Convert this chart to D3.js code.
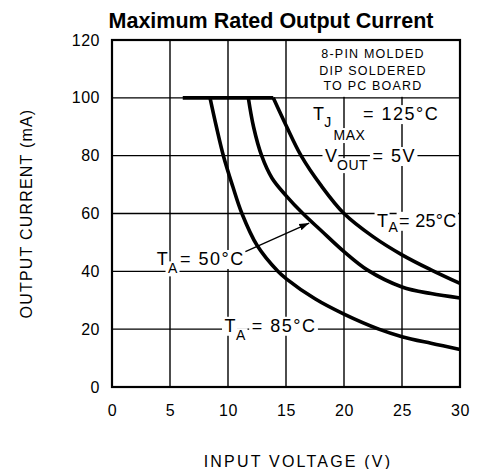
<!DOCTYPE html>
<html>
<head>
<meta charset="utf-8">
<script src="https://cdnjs.cloudflare.com/ajax/libs/d3/7.8.5/d3.min.js"></script>
<style>
body { margin: 0; background: #fff; }
text { font-family: "Liberation Sans", Arial, sans-serif; fill: #000; }
</style>
</head>
<body>
<script>
//tick values
var xTicks = [0, 5, 10, 15, 20, 25, 30];
var yTicks = [0, 20, 40, 60, 80, 100, 120];
//flat current limit at the top
var limitVin = [6.1, 13.9];
var limitIout = [100, 100];
//TA = 25C
var vin25 = [13.9, 15, 16.3, 18, 20, 22.5, 25, 27.5, 30];
var iout25 = [100, 90.5, 80, 69.8, 60, 52, 45.7, 40.5, 35.8];
//TA = 50C
var vin50 = [11.75, 12.2, 12.9, 13.8, 15, 16.5, 18, 20, 22, 25, 27.5, 30];
var iout50 = [100, 90, 80, 72.2, 66.2, 59.8, 54.2, 46.8, 40.5, 34.6, 32.3, 30.8];
//TA = 85C
var vin85 = [8.45, 9.0, 9.6, 10.4, 11.2, 12.5, 14.3, 15, 17.5, 20, 23, 25, 27.5, 30];
var iout85 = [100, 90, 80, 69.5, 60, 49, 40, 37.5, 30.5, 25.2, 20, 17.4, 15.1, 13];

var W = 482, H = 469;
var margin = { left: 112, right: 22, top: 40, bottom: 82 };
var width = W - margin.left - margin.right;
var height = H - margin.top - margin.bottom;

var x = d3.scaleLinear().domain([0, 30]).range([0, width]);
var y = d3.scaleLinear().domain([0, 120]).range([height, 0]);

var svg = d3.select("body").append("svg").attr("width", W).attr("height", H);
var chartGroup = svg.append("g").attr("transform", "translate(" + margin.left + "," + margin.top + ")");

//title
svg.append("text").attr("x", 271).attr("y", 28).attr("text-anchor", "middle")
    .style("font-size", "21.5px").style("font-weight", "bold").text("Maximum Rated Output Current");

//grid lines
chartGroup.selectAll(".vgrid").data(xTicks.slice(1, -1)).enter().append("line")
    .attr("x1", function (d) { return x(d); }).attr("x2", function (d) { return x(d); })
    .attr("y1", 0).attr("y2", height).attr("stroke", "#000").attr("stroke-width", 1.4);
chartGroup.selectAll(".hgrid").data(yTicks.slice(1, -1)).enter().append("line")
    .attr("y1", function (d) { return y(d); }).attr("y2", function (d) { return y(d); })
    .attr("x1", 0).attr("x2", width).attr("stroke", "#000").attr("stroke-width", 1.4);

//axes (labels only)
var xAxis = chartGroup.append("g").attr("transform", "translate(0," + height + ")")
    .call(d3.axisBottom(x).tickValues(xTicks).tickSize(0).tickPadding(18));
var yAxis = chartGroup.append("g")
    .call(d3.axisLeft(y).tickValues(yTicks).tickSize(0).tickPadding(12));
[xAxis, yAxis].forEach(function (a) {
    a.select(".domain").remove();
    a.selectAll("text").style("font-size", "16px").style("letter-spacing", "0.5px")
        .style("font-family", "'Liberation Sans', Arial, sans-serif").attr("fill", "#000");
});

//axis titles
svg.append("text").attr("x", 298).attr("y", 467).attr("text-anchor", "middle")
    .style("font-size", "16px").style("letter-spacing", "2.2px").text("INPUT VOLTAGE (V)");
svg.append("text").attr("transform", "translate(32," + (margin.top + height / 2) + ") rotate(-90)")
    .attr("text-anchor", "middle").style("font-size", "16px").style("letter-spacing", "1.2px")
    .text("OUTPUT CURRENT (mA)");

//white box behind the board note
chartGroup.append("rect").attr("x", x(15) + 1).attr("y", y(120) + 1)
    .attr("width", x(30) - x(15) - 2).attr("height", y(100) - y(120) - 2).attr("fill", "#fff");

//text with a white knock-out box behind it (boxes in their own layer, under all texts)
var boxLayer = chartGroup.append("g");
var textLayer = chartGroup.append("g");
function label(v, i, str, size, ls, anchor) {
    var t = textLayer.append("text").attr("x", x(v)).attr("y", y(i))
        .attr("text-anchor", anchor || "start")
        .style("font-size", size + "px").style("letter-spacing", ls + "px").text(str);
    var b = t.node().getBBox();
    boxLayer.append("rect").attr("x", b.x - 2.5).attr("y", b.y + 1)
        .attr("width", b.width + 4).attr("height", b.height - 1).attr("fill", "#fff");
    return t;
}
//board note
label(22.5, 113.8, "8-PIN MOLDED", 12.5, 1.2, "middle");
label(22.5, 107.9, "DIP SOLDERED", 12.5, 1.2, "middle");
label(22.5, 102.7, "TO PC BOARD", 12.5, 1.2, "middle");
//TJ max and VOUT
label(17.33, 92.3, "T", 18, 0);
label(18.3, 89.9, "J", 14, 0);
label(19.1, 85.4, "MAX", 14, 0.5);
label(21.64, 92.3, "= 125\u00B0C", 18, 1.5);
label(18.36, 77.8, "V", 18, 0);
label(19.4, 75.0, "OUT", 14, 0.5);
label(22.45, 77.8, "= 5V", 18, 1.5);
//TA labels
label(22.85, 55.4, "T", 18, 0);
label(23.84, 53.7, "A", 14, 0);
label(24.75, 55.4, "= 25\u00B0C", 18, 0.3);
label(3.85, 42.2, "T", 18, 0);
label(4.83, 39.3, "A", 14, 0);
label(5.86, 42.2, "= 50\u00B0C", 18, 1.5);
label(9.7, 19.1, "T", 18, 0);
label(10.69, 16.2, "A", 14, 0);
label(12.04, 19.1, "= 85\u00B0C", 18, 1.5);

//curves
var line = d3.line().x(function (d) { return x(d[0]); }).y(function (d) { return y(d[1]); })
    .curve(d3.curveCatmullRom.alpha(0.5));
[[vin25, iout25], [vin50, iout50], [vin85, iout85], [limitVin, limitIout]].forEach(function (s) {
    chartGroup.append("path").attr("d", line(d3.zip(s[0], s[1])))
        .attr("fill", "none").attr("stroke", "#000").attr("stroke-width", 3.6)
        .attr("stroke-linejoin", "round");
});

//arrow pointing at the 50C curve
svg.append("defs").append("marker").attr("id", "head").attr("viewBox", "0 0 10 10")
    .attr("refX", 10).attr("refY", 5).attr("markerWidth", 10).attr("markerHeight", 10)
    .attr("markerUnits", "userSpaceOnUse").attr("orient", "auto")
    .append("path").attr("d", "M0,1.5L10,5L0,8.5Z").attr("fill", "#000");
chartGroup.append("line").attr("x1", x(11.5)).attr("y1", y(46.8))
    .attr("x2", x(17.0)).attr("y2", y(56.7)).attr("stroke", "#000").attr("stroke-width", 1.3)
    .attr("marker-end", "url(#head)");

//frame
chartGroup.append("rect").attr("width", width).attr("height", height)
    .attr("fill", "none").attr("stroke", "#000").attr("stroke-width", 2.2);
</script>
</body>
</html>
